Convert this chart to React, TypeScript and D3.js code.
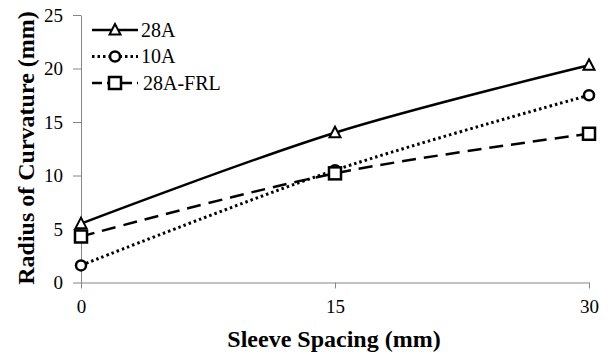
import React, { useEffect, useRef } from 'react';
import * as d3 from 'd3';

const spacing = [0, 15, 30];
const s28A = [5.5, 14.0, 20.3];
const s10A = [1.6, 10.5, 17.5];
const s28AFRL = [4.3, 10.2, 13.9];
const yTicks = [0, 5, 10, 15, 20, 25];
const seriesNames = ['28A', '10A', '28A-FRL'];

const width = 608;
const height = 354;
const font = 'Liberation Serif';

const App: React.FC = () => {
  const svgRef = useRef<SVGSVGElement>(null);

  useEffect(() => {
    if (!svgRef.current) return;
    const svg = d3.select(svgRef.current);
    svg.selectAll('*').remove();

    const x = d3.scaleLinear().domain([0, 30]).range([81, 589]);
    const y = d3.scaleLinear().domain([0, 25]).range([282.5, 15]);

    // axes
    const yAxis = svg.append('g')
      .attr('transform', 'translate(81,0)')
      .call(d3.axisLeft(y).tickValues(yTicks).tickSize(8).tickSizeOuter(0).tickPadding(10));
    const xAxis = svg.append('g')
      .attr('transform', 'translate(0,282.5)')
      .call(d3.axisBottom(x).tickValues(spacing).tickSize(6).tickSizeOuter(0).tickPadding(11));
    [yAxis, xAxis].forEach(a => {
      a.attr('font-family', font).attr('font-size', 19);
      a.selectAll('path, line').attr('stroke', '#868686').attr('stroke-width', 1);
      a.selectAll('text').attr('fill', '#000');
    });

    const series = [
      { name: seriesNames[0], values: s28A, dash: null, marker: 'triangle', w: 2.5 },
      { name: seriesNames[1], values: s10A, dash: '2.5,3', marker: 'circle', w: 3 },
      { name: seriesNames[2], values: s28AFRL, dash: '14,8', marker: 'square', w: 2.5 },
    ];

    const line = d3.line<number>()
      .x((_, i) => x(spacing[i]))
      .y(d => y(d))
      .curve(d3.curveCatmullRom.alpha(0.5));

    const drawMarker = (g: any, kind: string, cx: number, cy: number) => {
      if (kind === 'triangle') {
        g.append('path')
          .attr('d', `M${cx},${cy - 6}L${cx + 5.5},${cy + 4.5}L${cx - 5.5},${cy + 4.5}Z`)
          .attr('fill', '#fff').attr('stroke', '#000').attr('stroke-width', 2);
      } else if (kind === 'circle') {
        g.append('circle').attr('cx', cx).attr('cy', cy).attr('r', 5)
          .attr('fill', '#fff').attr('stroke', '#000').attr('stroke-width', 2.5);
      } else {
        g.append('rect').attr('x', cx - 6).attr('y', cy - 6).attr('width', 12).attr('height', 12)
          .attr('fill', '#fff').attr('stroke', '#000').attr('stroke-width', 2.5);
      }
    };

    series.forEach(s => {
      svg.append('path')
        .datum(s.values)
        .attr('d', line)
        .attr('fill', 'none')
        .attr('stroke', '#000')
        .attr('stroke-width', s.w)
        .attr('stroke-dasharray', s.dash);
    });
    series.forEach(s => {
      const g = svg.append('g');
      s.values.forEach((v, i) => drawMarker(g, s.marker, x(spacing[i]), y(v)));
    });

    // legend
    series.forEach((s, i) => {
      const ly = 30 + i * 26.5;
      const g = svg.append('g');
      g.append('line').attr('x1', 92).attr('x2', 138).attr('y1', ly).attr('y2', ly)
        .attr('stroke', '#000')
        .attr('stroke-width', s.w)
        .attr('stroke-dasharray', s.dash === '14,8' ? '10,5' : s.dash);
      drawMarker(g, s.marker, 115, ly);
      g.append('text').attr('x', i === 2 ? 143 : 141).attr('y', ly + 6.5)
        .attr('font-family', font).attr('font-size', 20)
        .text(s.name);
    });

    // titles
    svg.append('text')
      .attr('x', 334).attr('y', 347)
      .attr('text-anchor', 'middle')
      .attr('font-family', font).attr('font-size', 24).attr('font-weight', 'bold')
      .text('Sleeve Spacing (mm)');
    svg.append('text')
      .attr('transform', 'translate(34,148) rotate(-90)')
      .attr('text-anchor', 'middle')
      .attr('font-family', font).attr('font-size', 24).attr('font-weight', 'bold')
      .text('Radius of Curvature (mm)');
  }, []);

  return (
    <svg ref={svgRef} width={width} height={height}
      style={{ position: 'absolute', left: 0, top: 0, background: '#fff' }} />
  );
};

export default App;
